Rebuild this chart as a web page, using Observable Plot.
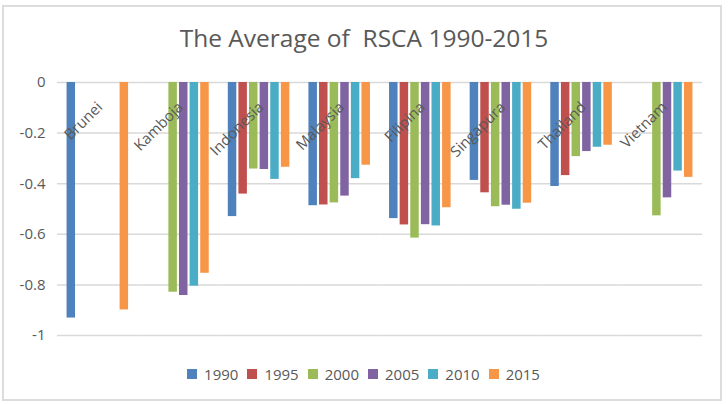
<!DOCTYPE html>
<html>
<head>
<meta charset="utf-8">
<script src="https://cdn.jsdelivr.net/npm/d3@7"></script>
<script src="https://cdn.jsdelivr.net/npm/@observablehq/plot@0.6"></script>
<style>
  html, body { margin: 0; padding: 0; background: #fff; }
  body { width: 728px; height: 404px; position: relative; overflow: hidden; font-family: "Open Sans", sans-serif; }
  #frame { position: absolute; left: 2px; top: 5px; width: 720px; height: 396px; box-sizing: border-box; border: 2px solid #dcdcdc; }
  #title { position: absolute; left: 0; top: 22px; width: 728px; text-align: center; font-size: 24.5px; color: #595959; white-space: pre; line-height: 32px; }
  #chart { position: absolute; left: 0; top: 62px; }
  #legend { position: absolute; left: 0; top: 364px; width: 728px; display: flex; justify-content: center; font-size: 15px; color: #595959; line-height: 20px; }
  .item { display: flex; align-items: center; margin: 0 5px 0 4px; }
  .sw { width: 10px; height: 10px; margin-right: 7px; }
</style>
</head>
<body>
<div id="frame"></div>
<div id="title">The Average of  RSCA 1990-2015</div>
<div id="chart"></div>
<div id="legend"></div>
<script>
const countries = ["Brunei", "Kamboja", "Indonesia", "Malaysia", "Filipina", "Singapura", "Thailand", "Vietnam"];
const years = ["1990", "1995", "2000", "2005", "2010", "2015"];
const colors = ["#4F81BD", "#C0504D", "#9BBB59", "#8064A2", "#4BACC6", "#F79646"];
const yTicks = [0, -0.2, -0.4, -0.6, -0.8, -1];

const v1990 = [-0.931, null, -0.530, -0.487, -0.538, -0.387, -0.411, null];
const v1995 = [null, null, -0.441, -0.484, -0.563, -0.436, -0.368, null];
const v2000 = [null, -0.829, -0.342, -0.476, -0.615, -0.491, -0.293, -0.527];
const v2005 = [null, -0.842, -0.344, -0.449, -0.562, -0.485, -0.273, -0.456];
const v2010 = [null, -0.805, -0.383, -0.380, -0.567, -0.501, -0.256, -0.350];
const v2015 = [-0.899, -0.754, -0.335, -0.327, -0.495, -0.477, -0.248, -0.375];

const series = [v1990, v1995, v2000, v2005, v2010, v2015];
const rows = [];
countries.forEach((c, i) => {
  years.forEach((y, j) => {
    const v = series[j][i];
    if (v != null) rows.push({country: c, year: y, value: v});
  });
});
const labels = countries.map(c => ({country: c}));

const plot = Plot.plot({
  width: 728,
  height: 293,
  marginLeft: 57,
  marginRight: 26,
  marginTop: 20,
  marginBottom: 20,
  style: {fontFamily: "Open Sans, sans-serif", fontSize: "15px", color: "#595959", background: "transparent"},
  fx: {domain: countries, axis: null, paddingInner: 0, paddingOuter: 0, round: false},
  x: {domain: years, axis: null, paddingInner: 0.2, paddingOuter: 0.9, round: false},
  y: {domain: [-1, 0], ticks: yTicks, label: null},
  color: {domain: years, range: colors},
  marks: [
    Plot.gridY(yTicks, {stroke: "#d9d9d9", strokeOpacity: 1, strokeWidth: 1.5}),
    Plot.axisY(yTicks, {tickSize: 0, tickPadding: 12, tickFormat: d => `${d}`, fill: "#595959", fontSize: 15, label: null}),
    Plot.barY(rows, {fx: "country", x: "year", y: "value", fill: "year", inset: 0}),
    Plot.text(labels, {fx: "country", text: "country", frameAnchor: "top", rotate: -45, textAnchor: "end", dx: -2, dy: 18, fill: "#595959", fontSize: 15})
  ]
});
document.getElementById("chart").appendChild(plot);

const legend = d3.select("#legend");
years.forEach((y, i) => {
  const it = legend.append("div").attr("class", "item");
  it.append("div").attr("class", "sw").style("background", colors[i]);
  it.append("span").text(y);
});
</script>
</body>
</html>
